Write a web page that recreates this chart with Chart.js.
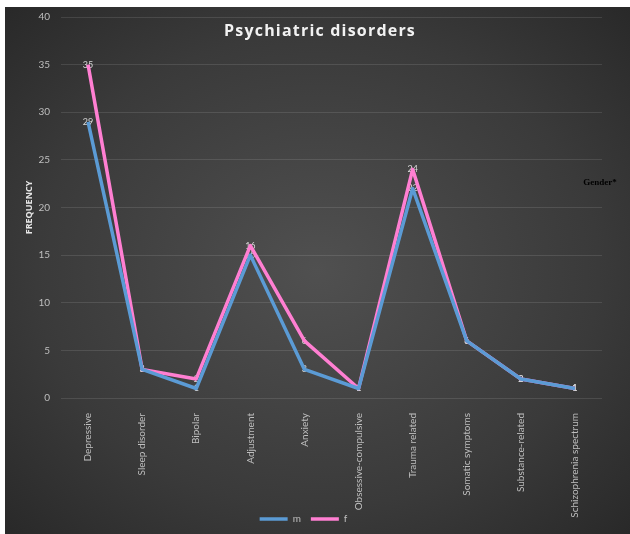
<!DOCTYPE html>
<html>
<head>
<meta charset="utf-8">
<script src="https://cdn.jsdelivr.net/npm/chart.js@4.4.1/dist/chart.umd.min.js"></script>
<style>
  html, body { margin: 0; padding: 0; background: #ffffff; }
  #panel {
    position: absolute; left: 5px; top: 7px; width: 625px; height: 527px;
    background: radial-gradient(ellipse 75% 75% at 50% 50%, #505050 0%, #3a3a3a 60%, #262626 100%);
  }
  #wrap { position: absolute; left: 0; top: 0; width: 630px; height: 534px; }
</style>
</head>
<body>
<div id="panel"></div>
<div id="wrap"><canvas id="c" width="630" height="534"></canvas></div>
<script>
const categories = ["Depressive", "Sleep disorder", "Bipolar", "Adjustment", "Anxiety",
  "Obsessive-compulsive", "Trauma related", "Somatic symptoms", "Substance-related", "Schizophrenia spectrum"];
const maleValues = [29, 3, 1, 15, 3, 1, 22, 6, 2, 1];
const femaleValues = [35, 3, 2, 16, 6, 1, 24, 6, 2, 1];
const yTicks = [0, 5, 10, 15, 20, 25, 30, 35, 40];
const titleText = "Psychiatric disorders";
const yTitle = "FREQUENCY";
const sideNote = "Gender*";

const textPlugin = {
  id: 'texts',
  beforeDatasetsDraw(chart) {
    const ctx = chart.ctx;
    ctx.save();
    ctx.font = '9px "Lato", sans-serif';
    ctx.fillStyle = '#d9d9d9';
    ctx.textAlign = 'center';
    ctx.textBaseline = 'middle';
    chart.data.datasets.forEach((ds, i) => {
      const meta = chart.getDatasetMeta(i);
      meta.data.forEach((pt, j) => {
        ctx.fillText(String(ds.data[j]), pt.x, pt.y);
      });
    });
    ctx.restore();
  },
  afterDraw(chart) {
    const ctx = chart.ctx;
    const a = chart.chartArea;
    ctx.save();
    ctx.fillStyle = '#f2f2f2';
    ctx.font = 'bold 16px "Open Sans", sans-serif';
    ctx.textAlign = 'center';
    ctx.textBaseline = 'middle';
    if ('letterSpacing' in ctx) ctx.letterSpacing = '1.2px';
    ctx.fillText(titleText, 320, 31);
    if ('letterSpacing' in ctx) ctx.letterSpacing = '0px';
    ctx.fillStyle = '#000000';
    ctx.font = 'bold 9px "Liberation Serif", serif';
    ctx.fillText(sideNote, 600, 183);
    ctx.translate(29, (a.top + a.bottom) / 2);
    ctx.rotate(-Math.PI / 2);
    ctx.fillStyle = '#e6e6e6';
    ctx.font = 'bold 9px "Open Sans", sans-serif';
    ctx.fillText(yTitle, 0, 0);
    ctx.restore();
  }
};

new Chart(document.getElementById('c'), {
  type: 'line',
  data: {
    labels: categories,
    datasets: [
      { label: 'm', data: maleValues, borderColor: '#5B9BD5', backgroundColor: '#5B9BD5',
        borderWidth: 3.5, pointRadius: 0, tension: 0, borderJoinStyle: 'round' },
      { label: 'f', data: femaleValues, borderColor: '#FF7FD2', backgroundColor: '#FF7FD2',
        borderWidth: 3.5, pointRadius: 0, tension: 0, borderJoinStyle: 'round' }
    ]
  },
  options: {
    responsive: false,
    animation: false,
    devicePixelRatio: 1,
    layout: { padding: { left: 5, right: 28, top: 14, bottom: 0 } },
    plugins: {
      title: { display: false },
      tooltip: { enabled: false },
      legend: {
        position: 'bottom',
        labels: {
          usePointStyle: true,
          pointStyle: 'line',
          pointStyleWidth: 28,
          color: '#bfbfbf',
          font: { size: 10, family: '"Lato", sans-serif' },
          padding: 10,
          boxHeight: 4
        }
      }
    },
    scales: {
      x: {
        type: 'category',
        offset: true,
        grid: { display: false },
        border: { display: false },
        ticks: {
          color: '#bfbfbf',
          font: { size: 10, family: '"Lato", sans-serif' },
          maxRotation: 90, minRotation: 90, autoSkip: false, padding: 7
        },
        afterFit(scale) {
          scale.height = 106;
          scale._computeLabelArea = function () { return undefined; };
        }
      },
      y: {
        min: 0, max: 40,
        afterBuildTicks(scale) { scale.ticks = yTicks.map(v => ({ value: v })); },
        grid: { color: 'rgba(255,255,255,0.11)', lineWidth: 1, drawTicks: false },
        border: { display: false },
        ticks: {
          color: '#bfbfbf',
          font: { size: 10, family: '"Lato", sans-serif' },
          padding: 11
        },
        afterFit(scale) { scale.width = 56; }
      }
    }
  },
  plugins: [textPlugin]
});
</script>
</body>
</html>
